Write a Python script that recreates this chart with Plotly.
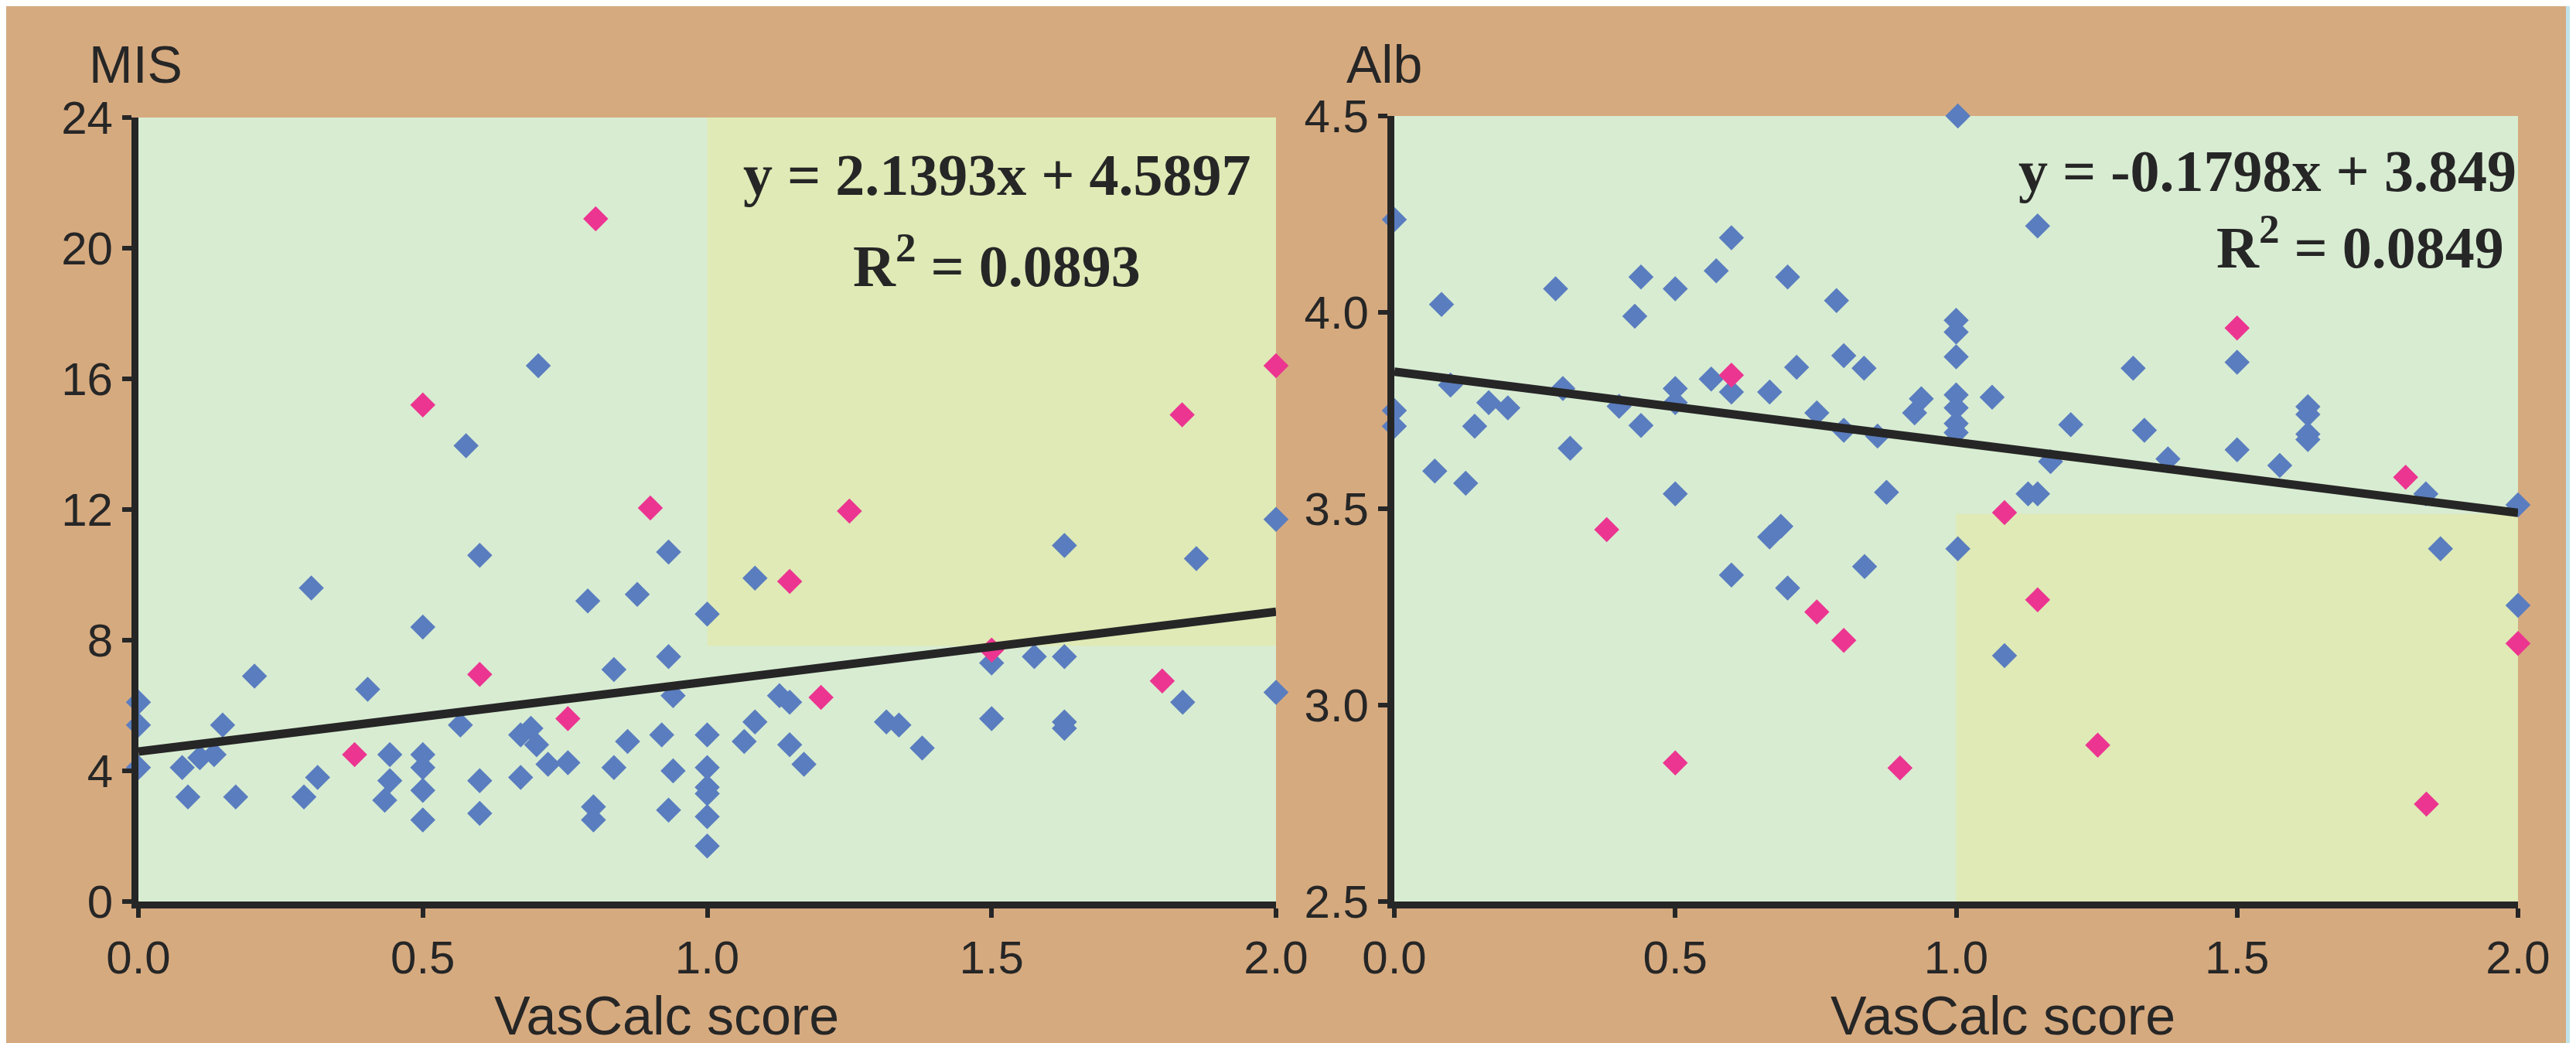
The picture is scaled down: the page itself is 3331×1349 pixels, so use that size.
import plotly.graph_objects as go

# ---------------- data: left panel (MIS) ----------------
mis_blue_x = [0.0, 0.0, 0.0, 0.077, 0.087, 0.108, 0.133, 0.148, 0.171, 0.204, 0.291, 0.304, 0.315,
              0.403, 0.433, 0.442, 0.442, 0.5, 0.5, 0.5, 0.5, 0.5, 0.566, 0.576, 0.6, 0.6, 0.6,
              0.672, 0.672, 0.69, 0.70, 0.703, 0.72, 0.755, 0.79, 0.80, 0.80, 0.836, 0.836, 0.86,
              0.877, 0.92, 0.932, 0.932, 0.932, 0.94, 0.94, 1.0, 1.0, 1.0, 1.0, 1.0, 1.0, 1.0,
              1.065, 1.084, 1.084, 1.127, 1.145, 1.145, 1.17, 1.315, 1.337, 1.378, 1.5, 1.5,
              1.575, 1.628, 1.628, 1.628, 1.628, 1.836, 1.86, 2.0, 2.0]
mis_blue_y = [6.1, 5.4, 4.1, 4.1, 3.2, 4.4, 4.5, 5.4, 3.2, 6.9, 3.2, 9.6, 3.8,
              6.5, 3.1, 4.5, 3.7, 8.4, 4.5, 4.1, 3.4, 2.5, 5.4, 13.95, 10.6, 3.7, 2.7,
              5.1, 3.8, 5.3, 4.8, 16.4, 4.2, 4.25, 9.2, 2.9, 2.5, 7.1, 4.1, 4.9,
              9.4, 5.1, 10.7, 7.5, 2.8, 6.3, 4.0, 8.8, 5.1, 4.1, 3.5, 3.3, 2.6, 1.7,
              4.9, 9.9, 5.5, 6.3, 6.1, 4.8, 4.2, 5.5, 5.4, 4.7, 7.3, 5.6,
              7.5, 10.9, 7.5, 5.5, 5.3, 6.1, 10.5, 11.7, 6.4]
mis_pink_x = [0.804, 0.5, 0.9, 1.25, 1.145, 0.6, 0.755, 0.38, 1.2, 1.5, 1.8, 1.835, 2.0]
mis_pink_y = [20.9, 15.2, 12.05, 11.95, 9.8, 6.95, 5.6, 4.5, 6.25, 7.7, 6.75, 14.9, 16.4]
mis_slope, mis_intercept = 2.1393, 4.5897
mis_eq = "y = 2.1393x + 4.5897"
mis_r2 = "R<sup>2</sup> = 0.0893"
mis_ticks = [0, 4, 8, 12, 16, 20, 24]

# ---------------- data: right panel (Alb) ----------------
alb_blue_x = [1.003, 0.0, 1.145, 0.6, 0.573, 0.7, 0.439, 0.287, 0.5, 0.084, 0.787, 0.428, 1.0, 1.0,
              1.0, 1.5, 0.8, 0.716, 0.836, 1.315, 0.564, 0.0, 0.0, 0.1, 0.168, 0.202, 0.143,
              0.3, 0.4, 0.439, 0.5, 0.5, 0.6, 0.668, 0.752, 0.8, 0.86, 0.926, 0.938, 1.0, 1.0,
              1.0, 1.0, 1.064, 1.204, 1.335, 1.626, 1.626, 1.626, 1.626, 1.5, 1.377, 1.168,
              1.576, 0.072, 0.127, 0.5, 0.876, 1.128, 1.145, 1.836, 2.0, 0.313,
              0.688, 0.668, 1.003, 1.862, 0.6, 0.837, 0.7, 1.086, 2.0]
alb_blue_y = [4.50, 4.236, 4.22, 4.19, 4.106, 4.09, 4.09, 4.06, 4.06, 4.02, 4.03, 3.99, 3.98, 3.95,
              3.887, 3.873, 3.89, 3.86, 3.858, 3.858, 3.83, 3.75, 3.71, 3.815, 3.77, 3.757, 3.71,
              3.806, 3.761, 3.712, 3.806, 3.77, 3.797, 3.797, 3.744, 3.70, 3.685, 3.744, 3.78, 3.79, 3.757,
              3.717, 3.694, 3.784, 3.714, 3.70, 3.76, 3.74, 3.69, 3.676, 3.65, 3.627, 3.62,
              3.61, 3.596, 3.565, 3.538, 3.542, 3.538, 3.538, 3.538, 3.51, 3.654,
              3.455, 3.428, 3.398, 3.398, 3.331, 3.353, 3.298, 3.126, 3.254]
alb_pink_x = [1.5, 0.6, 1.8, 1.086, 0.378, 0.752, 1.145, 0.8, 2.0, 0.5, 0.9, 1.252, 1.837]
alb_pink_y = [3.96, 3.84, 3.58, 3.49, 3.447, 3.237, 3.268, 3.165, 3.157, 2.853, 2.84, 2.898, 2.748]
alb_slope, alb_intercept = -0.1798, 3.849
alb_eq = "y = -0.1798x + 3.849"
alb_r2 = "R<sup>2</sup> = 0.0849"
alb_ticks = [2.5, 3.0, 3.5, 4.0, 4.5]

x_ticks = [0.0, 0.5, 1.0, 1.5, 2.0]
x_title = "VasCalc score"
fit_x = [0.0, 2.0]

# ---------------- styling ----------------
W, H = 3331, 1349
OFF = 8  # page body margin of the html document
TAN = "#D6AA7F"
GREEN = "#D8ECD2"
YELLOW = "#DFEAB6"
BLUE = "#5A7DBF"
PINK = "#EC3591"
INK = "#262626"
SANS = "Liberation Sans, Arial, sans-serif"
SERIF = "Liberation Serif, Times New Roman, serif"


def px_x(p):
    return (p - OFF) / W


def px_y(p):
    return 1 - (p - OFF) / H


fig = go.Figure()

marker_size = 25
for (bx, by, pxs, pys, xa, ya, slope, icpt) in [
    (mis_blue_x, mis_blue_y, mis_pink_x, mis_pink_y, "x", "y", mis_slope, mis_intercept),
    (alb_blue_x, alb_blue_y, alb_pink_x, alb_pink_y, "x2", "y2", alb_slope, alb_intercept),
]:
    fig.add_trace(go.Scatter(x=bx, y=by, mode="markers", xaxis=xa, yaxis=ya,
                             marker=dict(symbol="diamond", size=marker_size, color=BLUE, line=dict(width=0)),
                             cliponaxis=False, showlegend=False, hoverinfo="x+y"))
    fig.add_trace(go.Scatter(x=pxs, y=pys, mode="markers", xaxis=xa, yaxis=ya,
                             marker=dict(symbol="diamond", size=marker_size, color=PINK, line=dict(width=0)),
                             cliponaxis=False, showlegend=False, hoverinfo="x+y"))
    fig.add_trace(go.Scatter(x=fit_x, y=[slope * v + icpt for v in fit_x], mode="lines",
                             xaxis=xa, yaxis=ya, line=dict(color=INK, width=11),
                             cliponaxis=False, showlegend=False, hoverinfo="skip"))

axis_common = dict(showgrid=False, zeroline=False, showline=True, linecolor=INK, linewidth=9,
                   ticks="outside", ticklen=12, tickwidth=6, tickcolor=INK, automargin=False,
                   tickfont=dict(family=SANS, size=60, color=INK))

fig.update_layout(
    width=W, height=H,
    autosize=False,
    margin=dict(l=0, r=0, t=0, b=0, pad=0, autoexpand=False),
    paper_bgcolor=TAN,
    plot_bgcolor=GREEN,
    xaxis=dict(domain=[px_x(179), px_x(1650)], range=[0, 2], tickvals=x_ticks, tickformat=".1f",
               anchor="y", **axis_common),
    yaxis=dict(domain=[px_y(1166), px_y(152)], range=[0, 24], tickvals=mis_ticks,
               anchor="x", **axis_common),
    xaxis2=dict(domain=[px_x(1803), px_x(3256)], range=[0, 2], tickvals=x_ticks, tickformat=".1f",
                anchor="y2", **axis_common),
    yaxis2=dict(domain=[px_y(1166), px_y(150)], range=[2.5, 4.5], tickvals=alb_ticks, tickformat=".1f",
                anchor="x2", **axis_common),
)

# highlighted (yellow) regions
fig.add_shape(type="rect", xref="x", yref="y", x0=1.0, x1=2.0, y0=7.82, y1=24,
              fillcolor=YELLOW, line=dict(width=0), layer="below")
fig.add_shape(type="rect", xref="x2", yref="y2", x0=1.0, x1=2.0, y0=2.5, y1=3.487,
              fillcolor=YELLOW, line=dict(width=0), layer="below")

# light blue strips at the picture edges
fig.add_shape(type="rect", xref="paper", yref="paper", x0=px_x(0), x1=px_x(7), y0=-0.02, y1=1.02,
              fillcolor="#BFE3E8", line=dict(width=0), layer="below")
fig.add_shape(type="rect", xref="paper", yref="paper", x0=px_x(3318), x1=px_x(3331), y0=-0.02, y1=1.02,
              fillcolor="#BFE3E8", line=dict(width=0), layer="below")

ann = []
# axis titles
ann.append(dict(text="MIS", x=px_x(175), y=px_y(83), xref="paper", yref="paper", showarrow=False,
                font=dict(family=SANS, size=68, color=INK), xanchor="center", yanchor="middle"))
ann.append(dict(text="Alb", x=px_x(1790), y=px_y(83), xref="paper", yref="paper", showarrow=False,
                font=dict(family=SANS, size=68, color=INK), xanchor="center", yanchor="middle"))
ann.append(dict(text=x_title, x=px_x(862), y=px_y(1314), xref="paper", yref="paper", showarrow=False,
                font=dict(family=SANS, size=70, color=INK), xanchor="center", yanchor="middle"))
ann.append(dict(text=x_title, x=px_x(2590), y=px_y(1314), xref="paper", yref="paper", showarrow=False,
                font=dict(family=SANS, size=70, color=INK), xanchor="center", yanchor="middle"))
# regression equations
eqfont = dict(family=SERIF, size=76, color=INK)
ann.append(dict(text="<b>" + mis_eq + "</b>", x=px_x(1289), y=px_y(226), xref="paper", yref="paper",
                showarrow=False, font=eqfont, xanchor="center", yanchor="middle"))
ann.append(dict(text="<b>" + mis_r2 + "</b>", x=px_x(1289), y=px_y(338), xref="paper", yref="paper",
                showarrow=False, font=eqfont, xanchor="center", yanchor="middle"))
ann.append(dict(text="<b>" + alb_eq + "</b>", x=px_x(3256), y=px_y(221), xref="paper", yref="paper",
                showarrow=False, font=eqfont, xanchor="right", yanchor="middle"))
ann.append(dict(text="<b>" + alb_r2 + "</b>", x=px_x(3240), y=px_y(314), xref="paper", yref="paper",
                showarrow=False, font=eqfont, xanchor="right", yanchor="middle"))
fig.update_layout(annotations=ann)

fig.write_html("out.html")
